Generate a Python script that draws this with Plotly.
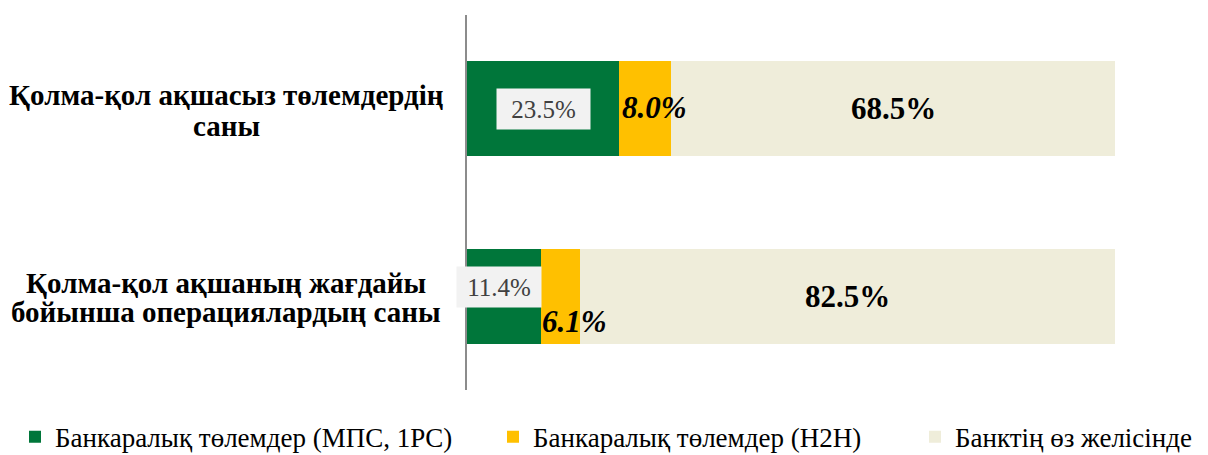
import plotly.graph_objects as go

categories = [["Қолма-қол ақшасыз төлемдердің", "саны"],
              ["Қолма-қол ақшаның жағдайы", "бойынша операциялардың саны"]]
series_names = ["Банкаралық төлемдер (МПС, 1PC)",
                "Банкаралық төлемдер (H2H)",
                "Банктің өз желісінде"]
interbank_mps = [23.5, 11.4]
interbank_h2h = [8.0, 6.1]
own_network = [68.5, 82.5]
colors = ["#00763A", "#FFC000", "#EFEDDA"]

SERIF = "Liberation Serif"
ys = [0, 1]
fig = go.Figure()
vals = [interbank_mps, interbank_h2h, own_network]
legends = ["legend", "legend2", "legend3"]
for name, v, c, lg in zip(series_names, vals, colors, legends):
    fig.add_trace(go.Bar(y=ys, x=v, name=name, orientation="h",
                         marker=dict(color=c, line=dict(width=0)),
                         width=0.507, legend=lg, hoverinfo="skip"))

ann = []
# category labels (one annotation per line for tight line spacing)
line_shifts = [[14, -17], [13, -16]]
for i, lines in enumerate(categories):
    for j, line in enumerate(lines):
        ann.append(dict(x=0, y=ys[i], xref="x", yref="y", text=line, showarrow=False,
                        xanchor="center", yanchor="middle", align="center",
                        xshift=-241, yshift=line_shifts[i][j],
                        font=dict(family=SERIF, size=29, color="#000000", weight="bold")))

# data labels
box_w = [89, 80]
box_shift = [(0, 0), (-5, 9)]
h2h_shift = [(9, 1), (14, -25)]
for i in range(2):
    a = interbank_mps[i]; b = interbank_h2h[i]; c = own_network[i]
    ann.append(dict(x=a / 2, y=ys[i], xref="x", yref="y", text=f"{a:.1f}%", showarrow=False,
                    xshift=box_shift[i][0], yshift=box_shift[i][1],
                    bgcolor="#F2F2F2", width=box_w[i], height=36, borderpad=2,
                    font=dict(family=SERIF, size=25, color="#404040")))
    ann.append(dict(x=a + b / 2, y=ys[i], xref="x", yref="y", text=f"<i>{b:.1f}%</i>",
                    showarrow=False, xshift=h2h_shift[i][0], yshift=h2h_shift[i][1],
                    font=dict(family=SERIF, size=31, color="#000000", weight="bold")))
    ann.append(dict(x=a + b + c / 2, y=ys[i], xref="x", yref="y", text=f"{c:.1f}%",
                    showarrow=False,
                    font=dict(family=SERIF, size=31, color="#000000", weight="bold")))

leg_common = dict(orientation="h", yanchor="middle", xanchor="left", y=-0.126,
                  font=dict(family=SERIF, size=27, color="#000000"),
                  bgcolor="rgba(0,0,0,0)", itemclick=False)
fig.update_layout(
    barmode="stack",
    width=1208, height=455,
    margin=dict(l=467, r=93, t=15, b=65, autoexpand=False),
    paper_bgcolor="white", plot_bgcolor="white",
    xaxis=dict(range=[0, 100], showgrid=False, zeroline=False, showticklabels=False,
               showline=False, fixedrange=True),
    yaxis=dict(range=[1.5, -0.5], showgrid=False, zeroline=False, showticklabels=False,
               showline=True, linecolor="#8C8C8C", linewidth=2, fixedrange=True),
    legend=dict(x=(15 - 467) / 648, **leg_common),
    legend2=dict(x=(493 - 467) / 648, **leg_common),
    legend3=dict(x=(915 - 467) / 648, **leg_common),
    annotations=ann,
    showlegend=True,
)
fig.write_html("out.html", config={"displayModeBar": False},
               post_script="document.body.style.margin='0';document.body.style.overflow='hidden';")
